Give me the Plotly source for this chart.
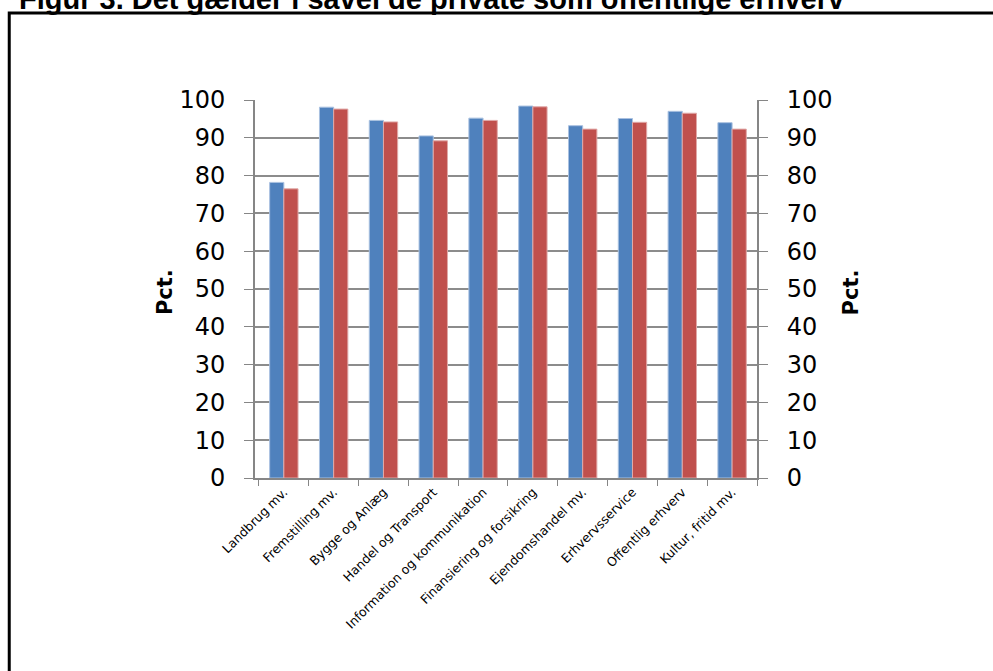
import plotly.graph_objects as go

categories = ["Landbrug mv.", "Fremstilling mv.", "Bygge og Anlæg", "Handel og Transport",
              "Information og kommunikation", "Finansiering og forsikring", "Ejendomshandel mv.",
              "Erhvervsservice", "Offentlig erhverv", "Kultur, fritid mv."]
series_blue = [78.2, 98.1, 94.6, 90.5, 95.2, 98.4, 93.2, 95.1, 97.0, 94.0]
series_red = [76.5, 97.6, 94.2, 89.2, 94.6, 98.2, 92.3, 94.1, 96.5, 92.3]
y_ticks = [0, 10, 20, 30, 40, 50, 60, 70, 80, 90, 100]
title_text = "Figur 3. Det gælder i såvel de private som offentlige erhverv"
axis_title = "Pct."

W, H = 993, 671
L, R, T, B = 255, 993 - 757.5, 100, 671 - 478
ph = H - T - B

def py(p):
    return (H - B - p) / ph

def px(p):
    return (p - L) / (W - L - R)

fig = go.Figure()
fig.add_trace(go.Bar(x=categories, y=series_blue, marker=dict(color="#4F81BD", line=dict(color="#A9C1E0", width=1)), showlegend=False))
fig.add_trace(go.Bar(x=categories, y=series_red, marker=dict(color="#C0504D", line=dict(color="#E0A9A8", width=1)), showlegend=False))
fig.add_trace(go.Scatter(x=[categories[0]], y=[0], yaxis="y2", mode="markers", marker=dict(opacity=0), showlegend=False, hoverinfo="skip"))

tickfont = dict(family="DejaVu Sans", size=24, color="#000000")
fig.update_layout(
    width=W, height=H,
    margin=dict(l=L, r=R, t=T, b=B, pad=0),
    paper_bgcolor="white", plot_bgcolor="white",
    barmode="group", bargap=0.43, bargroupgap=0,
    showlegend=False,
    xaxis=dict(showline=True, linecolor="#868686", linewidth=2, ticks="outside", ticklen=6,
               tickcolor="#868686", tickson="boundaries", tickangle=-45,
               tickfont=dict(family="DejaVu Sans", size=12.5, color="#000000"), showgrid=False),
    yaxis=dict(range=[0, 100], tickvals=y_ticks, showline=True, linecolor="#868686", linewidth=2,
               ticks="outside", ticklen=9, tickcolor="#868686", gridcolor="#8C8C8C", gridwidth=1.5,
               tickfont=tickfont, zeroline=False, ticklabelstandoff=14),
    yaxis2=dict(range=[0, 100], tickvals=y_ticks, overlaying="y", side="right", showline=True,
                linecolor="#868686", linewidth=2, ticks="outside", ticklen=9, tickcolor="#868686",
                showgrid=False, tickfont=tickfont, zeroline=False, ticklabelstandoff=14),
    annotations=[
        dict(text=axis_title, xref="paper", yref="paper", x=px(165), y=py(292), showarrow=False,
             textangle=-90, font=dict(family="DejaVu Sans", size=21, color="#000000", weight="bold"),
             xanchor="center", yanchor="middle"),
        dict(text=axis_title, xref="paper", yref="paper", x=px(852), y=py(292), showarrow=False,
             textangle=-90, font=dict(family="DejaVu Sans", size=21, color="#000000", weight="bold"),
             xanchor="center", yanchor="middle"),
        dict(text=title_text, xref="paper", yref="paper", x=px(17), y=py(17), showarrow=False,
             font=dict(family="Liberation Sans", size=29, color="#000000", weight="bold"),
             xanchor="left", yanchor="bottom"),
    ],
    shapes=[dict(type="rect", xref="paper", yref="paper", x0=px(9), x1=px(1200), y0=py(13), y1=py(900),
                 line=dict(color="#000000", width=3), fillcolor="rgba(0,0,0,0)", layer="above")],
)

fig.write_html("out.html", config={"displayModeBar": False},
               post_script="document.body.style.margin='0';document.body.style.overflow='hidden';")
